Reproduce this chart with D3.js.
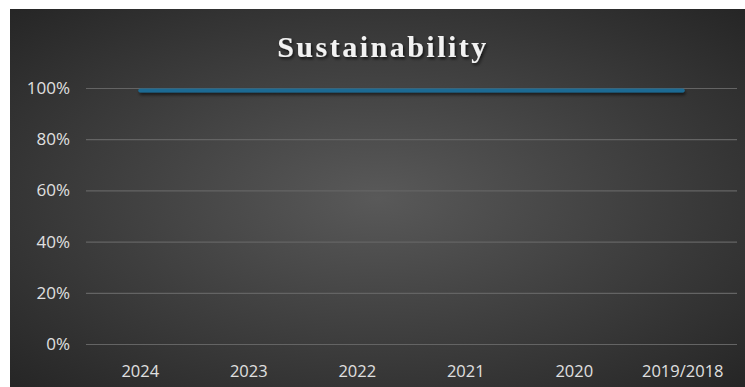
<!DOCTYPE html>
<html><head><meta charset="utf-8">
<script src="https://cdn.jsdelivr.net/npm/d3@7"></script>
<style>html,body{margin:0;padding:0;background:#fff;overflow:hidden}</style>
</head><body>
<script>
const categories = ["2024","2023","2022","2021","2020","2019/2018"];
const values = [0.99,0.99,0.99,0.99,0.99,0.99];
const yTicks = [0,0.2,0.4,0.6,0.8,1.0];
const title = "Sustainability";

const W = 745, H = 387;
const svg = d3.select("body").append("svg").attr("width", W).attr("height", H);
const defs = svg.append("defs");
const rg = defs.append("radialGradient").attr("id","bg").attr("cx","50%").attr("cy","50%").attr("r","70%");
rg.append("stop").attr("offset","0%").attr("stop-color","#595959");
rg.append("stop").attr("offset","100%").attr("stop-color","#262626");
const f = defs.append("filter").attr("id","sh").attr("x","-10%").attr("y","-50%").attr("width","120%").attr("height","200%");
f.append("feDropShadow").attr("dx",1.5).attr("dy",2).attr("stdDeviation",1.5).attr("flood-color","#000").attr("flood-opacity",0.7);
const f2 = defs.append("filter").attr("id","lsh").attr("filterUnits","userSpaceOnUse")
  .attr("x",0).attr("y",0).attr("width",W).attr("height",H);
f2.append("feDropShadow").attr("dx",1).attr("dy",2.5).attr("stdDeviation",1.5).attr("flood-color","#000").attr("flood-opacity",0.6);

svg.append("rect").attr("x",10).attr("y",9).attr("width",W-10).attr("height",H-9).attr("fill","url(#bg)");

const x = d3.scaleBand().domain(categories).range([86,737]);
const y = d3.scaleLinear().domain([0,1]).range([344,88]);

svg.append("text").attr("x",383).attr("y",57).attr("text-anchor","middle")
  .attr("font-family","'Liberation Serif','Times New Roman',serif").attr("font-weight","bold")
  .attr("font-size",30).attr("letter-spacing",2.5).attr("fill","#f2f2f2").attr("filter","url(#sh)").text(title);

const yAxis = d3.axisLeft(y).tickValues(yTicks).tickFormat(d3.format(".0%")).tickSize(-(737-86)).tickPadding(16);
const gy = svg.append("g").attr("transform","translate(86,0)").call(yAxis);
gy.select(".domain").remove();
gy.selectAll(".tick line").attr("stroke","#646464").attr("stroke-width",1.2);
gy.selectAll(".tick text").attr("fill","#e0e0e0").attr("font-family","'Open Sans',sans-serif").attr("font-size",17);

const xAxis = d3.axisBottom(x).tickSize(0).tickPadding(21);
const gx = svg.append("g").attr("transform","translate(0,344)").call(xAxis);
gx.select(".domain").remove();
gx.selectAll(".tick text").attr("fill","#e0e0e0").attr("font-family","'Open Sans',sans-serif").attr("font-size",16.5);

const line = d3.line().x((d,i)=>x(categories[i])+x.bandwidth()/2).y(d=>y(d));
svg.append("path").datum(values).attr("d",line).attr("fill","none")
  .attr("stroke","#1d6b93").attr("stroke-width",4).attr("stroke-linecap","round").attr("filter","url(#lsh)");
</script>
</body></html>
